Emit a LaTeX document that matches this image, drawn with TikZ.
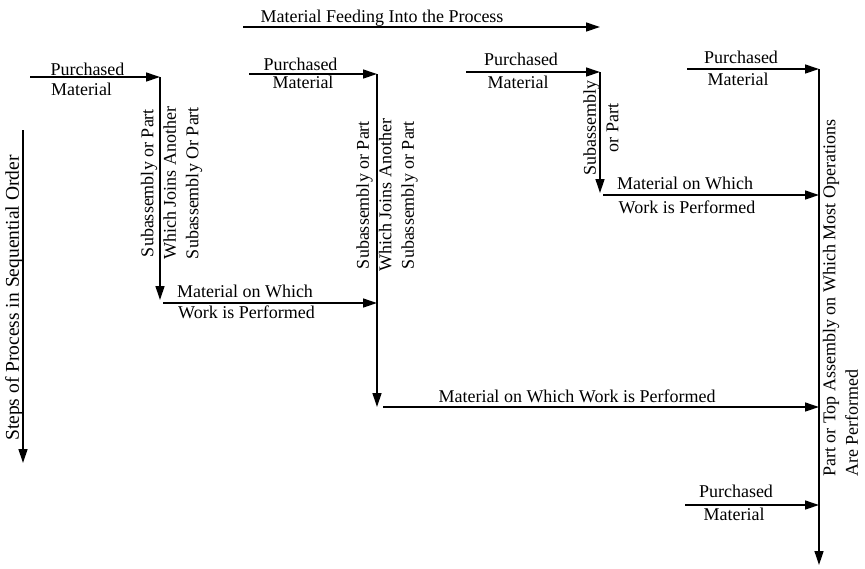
\documentclass[tikz,border=0pt]{standalone}
\usepackage{fontspec}
\setmainfont{Liberation Serif}
\usetikzlibrary{arrows.meta}

\begin{document}
\begin{tikzpicture}[x=1pt,y=-1pt,
  flow/.style={line width=1.3pt,-{Triangle[length=14pt,width=9pt]}},
  lbl/.style={font=\fontsize{18}{22.5}\selectfont, inner sep=0pt, anchor=base},
  vlbl/.style={font=\fontsize{18}{22.5}\selectfont, inner sep=0pt, rotate=90, align=center},
]
\useasboundingbox (0,0) rectangle (865,568);

% ---- junction points ----
\coordinate (feedA) at (243,27);   \coordinate (feedB) at (600,27);
\coordinate (stepA) at (23,130);   \coordinate (stepB) at (23,463);

\coordinate (p1) at (30,77);       \coordinate (j1) at (160,77);
\coordinate (j1e) at (160,300);
\coordinate (w1) at (163,303);     \coordinate (k2) at (377,303);

\coordinate (p2) at (249,74);      \coordinate (j2) at (377,74);
\coordinate (j2e) at (377,407);
\coordinate (w2) at (383,407);     \coordinate (k4) at (819,407);

\coordinate (p3) at (466,72);      \coordinate (j3) at (600,72);
\coordinate (j3e) at (600,193);
\coordinate (w3) at (603,195);     \coordinate (k3) at (819,195);

\coordinate (p4) at (687,69);      \coordinate (main) at (819,69);
\coordinate (mainE) at (819,565);
\coordinate (p5) at (685,505);     \coordinate (k5) at (819,505);

% ---- main direction indicators ----
\draw[flow] (feedA) -- (feedB);
\node[lbl] (feedT) at (382,22) {Material Feeding Into the Process};

\draw[flow] (stepA) -- (stepB);
\node[vlbl, font=\fontsize{19.5}{23}\selectfont] (stepT) at (14,298) {Steps of Process in Sequential Order};

% ---- first subassembly ----
\draw[flow] (p1) -- (j1);
\node[lbl] (pur1) at (87.5,75) {Purchased};
\node[lbl] (mat1) at (81.5,95) {Material};
\draw[flow] (j1) -- (j1e);
\node[vlbl] (sub1) at (171.5,183) {Subassembly or Part\\Which Joins Another\\Subassembly Or Part};
\draw[flow] (w1) -- (k2);
\node[lbl] (mow1) at (245,297) {Material on Which};
\node[lbl] (wip1) at (246.5,318) {Work is Performed};

% ---- second subassembly ----
\draw[flow] (p2) -- (j2);
\node[lbl] (pur2) at (300.5,70) {Purchased};
\node[lbl] (mat2) at (303,88) {Material};
\draw[flow] (j2) -- (j2e);
\node[vlbl] (sub2) at (387,195) {Subassembly or Part\\Which Joins Another\\Subassembly or Part};
\draw[flow] (w2) -- (k4);
\node[lbl] (mow2) at (577,402) {Material on Which Work is Performed};

% ---- third subassembly ----
\draw[flow] (p3) -- (j3);
\node[lbl] (pur3) at (521,65) {Purchased};
\node[lbl] (mat3) at (518,88) {Material};
\draw[flow] (j3) -- (j3e);
\node[vlbl] (sub3) at (601,128) {Subassembly\\or Part};
\draw[flow] (w3) -- (k3);
\node[lbl] (mow3) at (685,189) {Material on Which};
\node[lbl] (wip3) at (687,213) {Work is Performed};

% ---- main assembly line ----
\draw[flow] (p4) -- (main);
\node[lbl] (pur4) at (741,63) {Purchased};
\node[lbl] (mat4) at (738,85) {Material};
\draw[flow] (main) -- (mainE);
\node[vlbl, align=left, anchor=west] (topT) at (840.5,477)
  {Part or Top Assembly on Which Most Operations\\Are Performed};

\draw[flow] (p5) -- (k5);
\node[lbl] (pur5) at (736,497) {Purchased};
\node[lbl] (mat5) at (734,520) {Material};
\end{tikzpicture}
\end{document}
